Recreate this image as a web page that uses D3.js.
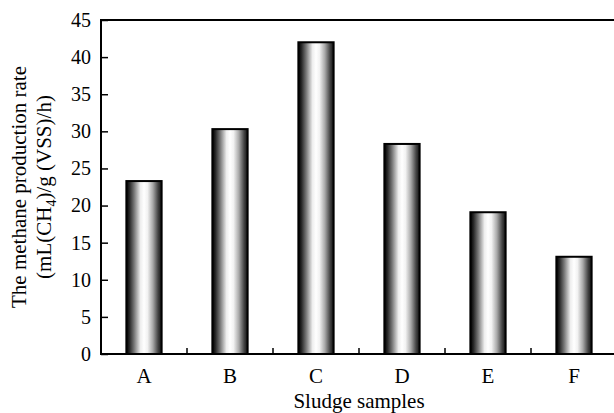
<!DOCTYPE html>
<html>
<head>
<meta charset="utf-8">
<script src="https://cdn.jsdelivr.net/npm/d3@7"></script>
<style>
  body { margin: 0; background: #fff; }
  text { font-family: "Liberation Serif", "Times New Roman", serif; fill: #000; }
</style>
</head>
<body>
<svg width="614" height="413"></svg>
<script>
const categories = ["A", "B", "C", "D", "E", "F"];
const rates = [23.3, 30.3, 42.0, 28.3, 19.1, 13.1];
const yTicks = [0, 5, 10, 15, 20, 25, 30, 35, 40, 45];

const svg = d3.select("svg");

const plotLeft = 101, plotRight = 617, plotTop = 20, plotBottom = 354;

const x = d3.scaleBand()
  .domain(categories)
  .range([plotLeft, plotRight])
  .paddingInner(0.59)
  .paddingOuter(0.295);

const y = d3.scaleLinear()
  .domain([0, 45])
  .range([plotBottom, plotTop]);

// cylinder-like shading of the bars
const grad = svg.append("defs").append("linearGradient")
  .attr("id", "cyl")
  .attr("x1", "0%").attr("x2", "100%")
  .attr("y1", "0%").attr("y2", "0%");
[[0, "#000"], [0.08, "#222"], [0.22, "#777"], [0.4, "#eee"], [0.5, "#fff"], [0.6, "#f2f2f2"], [0.75, "#aaa"], [0.9, "#444"], [1, "#111"]]
  .forEach(([o, c]) => grad.append("stop").attr("offset", o).attr("stop-color", c));

svg.selectAll("rect.bar")
  .data(rates)
  .join("rect")
  .attr("class", "bar")
  .attr("x", (d, i) => x(categories[i]))
  .attr("y", d => y(d))
  .attr("width", x.bandwidth())
  .attr("height", d => y(0) - y(d))
  .attr("fill", "url(#cyl)")
  .attr("stroke", "#000")
  .attr("stroke-width", 2);

// frame
svg.append("path")
  .attr("d", `M${plotRight},${plotTop}H${plotLeft}V${plotBottom}H${plotRight}`)
  .attr("fill", "none")
  .attr("stroke", "#000")
  .attr("stroke-width", 2);

// y axis: inward ticks
const yAxis = svg.append("g")
  .attr("transform", `translate(${plotLeft},0)`)
  .call(d3.axisLeft(y).tickValues(yTicks).tickSizeInner(-7).tickSizeOuter(0).tickPadding(10));
yAxis.select(".domain").remove();
yAxis.selectAll("line").attr("stroke", "#000").attr("stroke-width", 1.5);
yAxis.selectAll("text")
  .style("font-family", "'Liberation Serif', serif")
  .style("font-size", "20px")
  .attr("fill", "#000");

// x ticks between categories, pointing up
svg.selectAll("line.xtick")
  .data(categories.slice(0, -1))
  .join("line")
  .attr("class", "xtick")
  .attr("x1", d => x(d) + x.bandwidth() / 2 + x.step() / 2)
  .attr("x2", d => x(d) + x.bandwidth() / 2 + x.step() / 2)
  .attr("y1", plotBottom)
  .attr("y2", plotBottom - 6)
  .attr("stroke", "#000")
  .attr("stroke-width", 1.5);

svg.selectAll("text.xlab")
  .data(categories)
  .join("text")
  .attr("class", "xlab")
  .attr("x", d => x(d) + x.bandwidth() / 2)
  .attr("y", 383)
  .attr("text-anchor", "middle")
  .style("font-size", "21px")
  .text(d => d);

svg.append("text")
  .attr("x", (plotLeft + plotRight) / 2)
  .attr("y", 408)
  .attr("text-anchor", "middle")
  .style("font-size", "21px")
  .text("Sludge samples");

const mid = (plotTop + plotBottom) / 2;
svg.append("text")
  .attr("transform", `translate(26,${mid}) rotate(-90)`)
  .attr("text-anchor", "middle")
  .style("font-size", "21px")
  .text("The methane production rate");

const t2 = svg.append("text")
  .attr("transform", `translate(51,${mid}) rotate(-90)`)
  .attr("text-anchor", "middle")
  .style("font-size", "21px");
t2.append("tspan").text("(mL(CH");
t2.append("tspan").attr("dy", 5).style("font-size", "14px").text("4");
t2.append("tspan").attr("dy", -5).text(")/g (VSS)/h)");
</script>
</body>
</html>
